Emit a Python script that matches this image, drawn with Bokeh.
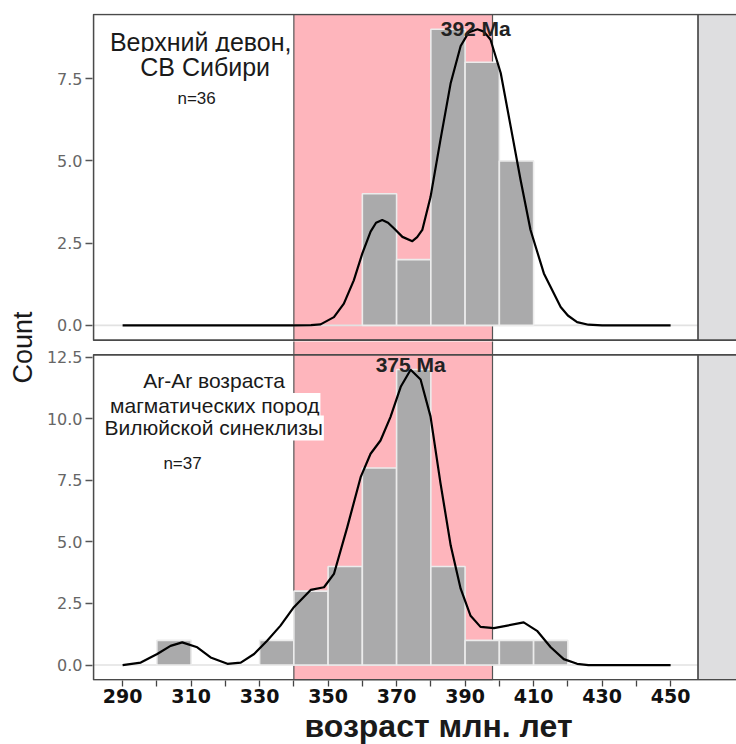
import math
from bokeh.plotting import figure
from bokeh.layouts import row, column
from bokeh.models import Range1d, FixedTicker, Label, NumeralTickFormatter
from bokeh.embed import file_html
from bokeh.resources import INLINE
from bokeh.core.properties import value

# ---------------- data ----------------
bin_width = 10
top_bin_left = [360, 370, 380, 390, 400]
top_counts = [4, 2, 9, 8, 5]
bot_bin_left = [300, 330, 340, 350, 360, 370, 380, 390, 400, 410]
bot_counts = [1, 1, 3, 4, 8, 12, 4, 1, 1, 1]

top_dens_x = [290, 300, 320, 340, 345, 347.8, 351.7, 354.6, 357.5, 360.0, 362.4, 364.0,
              365.8, 367.5, 369.2, 371.7, 374.6, 376.0, 377.5, 379.9, 382.8, 385.8,
              388.7, 391.0, 393.6, 395.5, 397.4, 400.4, 403.3, 406.2, 409.1, 413.0,
              417.9, 420.0, 422.7, 426.0, 430, 450]
top_dens_y = [0, 0, 0, 0, 0.01, 0.03, 0.25, 0.66, 1.37, 2.19, 2.85, 3.12,
              3.2, 3.12, 2.95, 2.69, 2.56, 2.68, 2.9, 3.9, 5.64, 7.37,
              8.49, 8.9, 9.0, 8.93, 8.69, 7.67, 6.05, 4.42, 2.9, 1.58,
              0.56, 0.3, 0.1, 0.02, 0, 0]

bot_dens_x = [290, 295.3, 300.1, 304.0, 307.4, 311.8, 315.7, 320.6, 324.5, 328.4, 332.2,
              336.1, 340.0, 344.9, 348.8, 351.7, 355.6, 359.5, 362.4, 365.3, 368.2,
              371.2, 374.1, 377.0, 379.9, 382.8, 385.8, 388.7, 391.6, 394.5, 398.4,
              402.3, 407.1, 411.0, 415.0, 418.8, 422.7, 426.0, 450]
bot_dens_y = [0, 0.1, 0.45, 0.78, 0.92, 0.72, 0.31, 0.05, 0.1, 0.45, 0.99,
              1.6, 2.35, 3.05, 3.16, 3.7, 5.6, 7.63, 8.58, 9.12, 10.07,
              11.3, 11.99, 11.6, 10.1, 7.4, 4.85, 3.1, 2.0, 1.55, 1.5,
              1.6, 1.73, 1.39, 0.72, 0.24, 0.05, 0, 0]

pink_span = (340, 398)
top_peak = "392 Ma"
bot_peak = "375 Ma"
top_label_lines = ["Верхний девон,", "СВ Сибири"]
top_n = "n=36"
bot_label_lines = ["Ar-Ar возраста", "магматических пород", "Вилюйской синеклизы"]
bot_n = "n=37"
x_ticks = list(range(290, 451, 10))
x_tick_labels = {t: (str(t) if (t - 290) % 20 == 0 else "") for t in x_ticks}
top_y_ticks = [0, 2.5, 5.0, 7.5]
bot_y_ticks = [0, 2.5, 5.0, 7.5, 10.0, 12.5]
y_title = "Count"
x_title = "возраст млн. лет"

# ---------------- style ----------------
PINK = "#feb5bc"
BAR = "#aaaaab"
BAR_LINE = "#ececec"
STRIP = "#dedee0"
BORDER = "#4a4a4a"
PANEL_X = (281.5, 458.0)
XR_END = 475.0

LEFT_W = 41
COL_W = 695
TOP_H = 341
BOT_H = 403
TOTAL_H = TOP_H + BOT_H
x_range = Range1d(281.21, 281.21 + (LEFT_W + COL_W - 92) / 3.425)


def base_fig(height, y_range, mb_top, mb_bottom, xaxis):
    p = figure(width=COL_W, height=height, x_range=x_range, y_range=y_range,
               output_backend="svg", toolbar_location=None,
               x_axis_location="below" if xaxis else None,
               min_border_left=92 - LEFT_W, min_border_right=0,
               min_border_top=mb_top, min_border_bottom=mb_bottom)
    p.outline_line_color = None
    p.grid.visible = False
    p.background_fill_color = "white"
    p.border_fill_color = "white"
    p.yaxis.axis_line_color = None
    p.yaxis.major_tick_line_color = "#555555"
    p.yaxis.major_tick_line_width = 1.3
    p.yaxis.major_tick_out = 7
    p.yaxis.major_tick_in = 0
    p.yaxis.minor_tick_line_color = None
    p.yaxis.major_label_text_color = "#666666"
    p.yaxis.major_label_text_font = "DejaVu Sans"
    p.yaxis.major_label_text_font_size = "16px"
    p.yaxis.major_label_standoff = 3
    p.yaxis.formatter = NumeralTickFormatter(format="0.0")
    return p


def draw_panel(p, bin_left, counts, dx, dy, ybot, ytop, pink_top):
    # facet strip at right
    p.quad(left=[PANEL_X[1]], right=[XR_END], bottom=[ybot], top=[ytop],
           fill_color=STRIP, line_color=None)
    # highlighted interval
    p.quad(left=[pink_span[0]], right=[pink_span[1]], bottom=[ybot], top=[pink_top],
           fill_color=PINK, line_color="#555555", line_width=1.2)
    # zero line
    p.segment(x0=[PANEL_X[0]], x1=[PANEL_X[1]], y0=[0], y1=[0],
              line_color="#e2e2e2", line_width=1.6)
    # histogram
    p.quad(left=bin_left, right=[b + bin_width for b in bin_left],
           bottom=[0] * len(counts), top=counts,
           fill_color=BAR, line_color=BAR_LINE, line_width=1.6)
    # density
    p.line(dx, dy, line_color="black", line_width=2.2, line_join="round")
    # panel border
    p.quad(left=[PANEL_X[0]], right=[XR_END], bottom=[ybot], top=[ytop],
           fill_color=None, line_color=BORDER, line_width=1.7)
    p.segment(x0=[PANEL_X[1]], x1=[PANEL_X[1]], y0=[ybot], y1=[ytop],
              line_color=BORDER, line_width=1.7)


# ---------------- top panel ----------------
top = base_fig(TOP_H, Range1d(-0.49, 9.48), 13, 0, False)
top.yaxis.ticker = FixedTicker(ticks=top_y_ticks)
draw_panel(top, top_bin_left, top_counts, top_dens_x, top_dens_y, -0.45, 9.45, 9.45)

for txt, xx, yy in [(top_label_lines[0], 312.8, 8.61), (top_label_lines[1], 314.1, 7.85)]:
    top.add_layout(Label(x=xx, y=yy, text=txt, text_align="center",
                         text_baseline="alphabetic", text_font="Liberation Sans",
                         text_font_size="25px", text_color="#1a1a1a",
                         background_fill_color="white", padding=1))
top.add_layout(Label(x=311.6, y=6.89, text=top_n, text_align="center",
                     text_baseline="alphabetic", text_font="Liberation Sans",
                     text_font_size="17px", text_color="#1a1a1a"))
top.add_layout(Label(x=393.1, y=9.02, text=top_peak, text_align="center",
                     text_baseline="alphabetic", text_font="Liberation Sans",
                     text_font_size="21px", text_font_style="bold", text_color="#222222"))

# ---------------- bottom panel ----------------
bot = base_fig(BOT_H, Range1d(-0.628, 13.14), 0, BOT_H - 339, True)
bot.yaxis.ticker = FixedTicker(ticks=bot_y_ticks)
bot.xaxis.ticker = FixedTicker(ticks=x_ticks)
bot.xaxis.major_label_overrides = x_tick_labels
bot.xaxis.axis_line_color = None
bot.xaxis.major_tick_line_color = "#444444"
bot.xaxis.major_tick_line_width = 1.3
bot.xaxis.major_tick_out = 6
bot.xaxis.major_tick_in = 0
bot.xaxis.minor_tick_line_color = None
bot.xaxis.major_label_text_color = "#111111"
bot.xaxis.major_label_text_font = "DejaVu Sans"
bot.xaxis.major_label_text_font_style = "bold"
bot.xaxis.major_label_text_font_size = "19px"
bot.xaxis.major_label_standoff = 2
draw_panel(bot, bot_bin_left, bot_counts, bot_dens_x, bot_dens_y, -0.6, 12.6, 13.5)

# x title as the bottom plot's title, placed below the axis
bot.title.text = x_title
bot.title_location = "below"
bot.title.align = "left"
bot.title.offset = 305 - 93
bot.title.standoff = 0
bot.title.text_font = "Liberation Sans"
bot.title.text_font_style = "bold"
bot.title.text_font_size = "32px"
bot.title.text_color = "#1a1a1a"

for txt, xx, yy in [(bot_label_lines[0], 316.7, 11.56), (bot_label_lines[1], 316.9, 10.54),
                    (bot_label_lines[2], 316.6, 9.63)]:
    bot.add_layout(Label(x=xx, y=yy, text=txt, text_align="center",
                         text_baseline="alphabetic", text_font="Liberation Sans",
                         text_font_size="21px", text_color="#1a1a1a",
                         background_fill_color="white", padding=1))
bot.add_layout(Label(x=307.5, y=8.17, text=bot_n, text_align="center",
                     text_baseline="alphabetic", text_font="Liberation Sans",
                     text_font_size="17px", text_color="#1a1a1a"))
bot.add_layout(Label(x=374.1, y=12.19, text=bot_peak, text_align="center",
                     text_baseline="alphabetic", text_font="Liberation Sans",
                     text_font_size="21px", text_font_style="bold", text_color="#222222"))

# ---------------- y title column ----------------
left = figure(width=LEFT_W, height=TOTAL_H, x_range=Range1d(0, LEFT_W), y_range=Range1d(0, TOTAL_H),
              output_backend="svg", toolbar_location=None, title=None,
              x_axis_location=None, y_axis_location=None, min_border=0)
left.outline_line_color = None
left.grid.visible = False
left.text(x=[22], y=[TOTAL_H - 347], text=[y_title], angle=math.pi / 2,
          text_align="center", text_baseline="middle",
          text_font=value("Liberation Sans"), text_font_size="27px", text_color="#1a1a1a")

layout = row(left, column(top, bot))
open("out.html", "w").write(file_html(layout, INLINE))
